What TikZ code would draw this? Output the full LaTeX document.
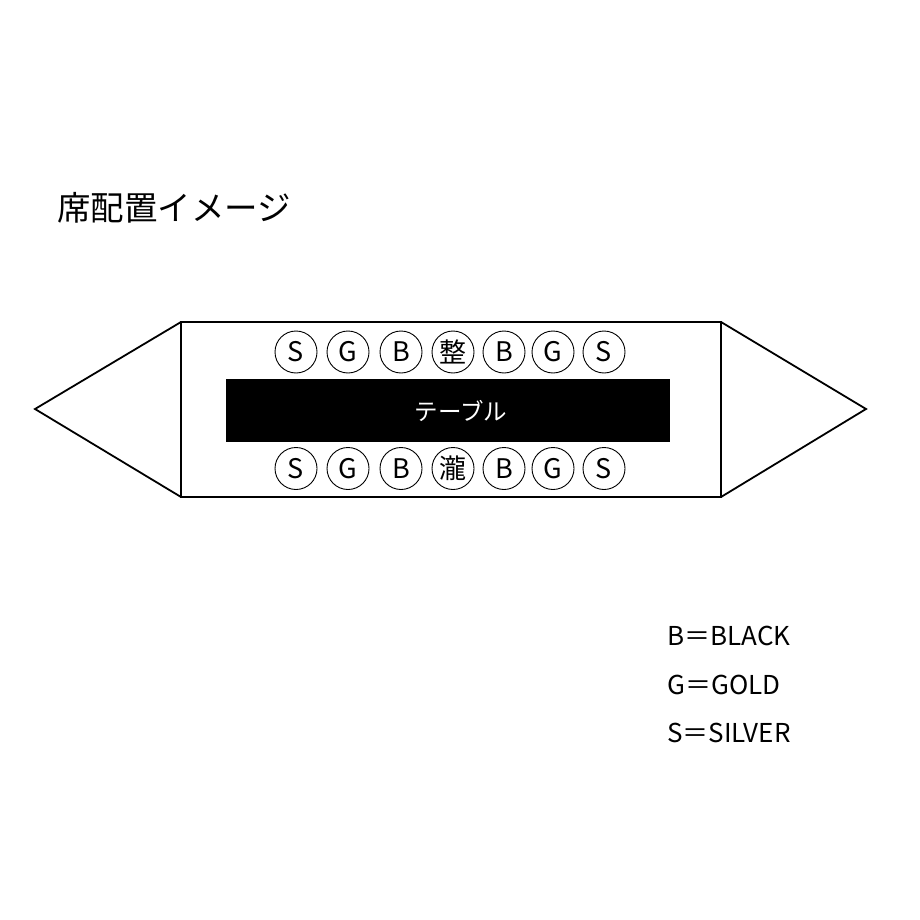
\documentclass[tikz,border=0pt]{standalone}
\usepackage{fontspec}
\setmainfont{Noto Sans CJK JP}
\begin{document}
\begin{tikzpicture}[x=1pt,y=-1pt,
  outline/.style={draw=black,line width=1.8pt,line join=miter},
  seat/.style={circle,draw=black,line width=0.9pt,minimum size=42pt,inner sep=0pt,font=\fontsize{27}{27}\selectfont},
  legend/.style={anchor=west,inner sep=0pt,font=\fontsize{26}{26}\selectfont}]
\useasboundingbox (0,0) rectangle (920,920);
\fill[white] (0,0) rectangle (920,920);
\node[anchor=west,inner sep=0pt,font=\fontsize{33.5}{33.5}\selectfont] (title) at (57,208) {席配置イメージ};
% room shape
\coordinate (ltip) at (35,409);
\coordinate (rtip) at (866,409);
\coordinate (tl) at (181,322);
\coordinate (tr) at (721,322);
\coordinate (bl) at (181,497);
\coordinate (br) at (721,497);
\draw[outline] (tl) -- (tr) -- (br) -- (bl) -- cycle;
\draw[outline] (tl) -- (ltip) -- (bl);
\draw[outline] (tr) -- (rtip) -- (br);
% table
\node[fill=black,minimum width=444pt,minimum height=63pt,inner sep=0pt] (table) at (448,410.5) {};
\node[text=white,inner sep=0pt,font=\fontsize{23.5}{23.5}\selectfont] (tablelabel) at (461,411) {テーブル};
% seats
\foreach \n/\x/\t in {1/296/S,2/348/G,3/401/B,4/453/整,5/504/B,6/553/G,7/604/S}
  \node[seat] (top\n) at (\x,352) {\t};
\foreach \n/\x/\t in {1/296/S,2/348/G,3/401/B,4/453/瀧,5/504/B,6/553/G,7/604/S}
  \node[seat] (bot\n) at (\x,468.5) {\t};
% legend
\node[legend] (lb) at (667,636) {B＝BLACK};
\node[legend] (lg) at (667,685) {G＝GOLD};
\node[legend] (ls) at (667,733) {S＝SILVER};
\end{tikzpicture}
\end{document}
